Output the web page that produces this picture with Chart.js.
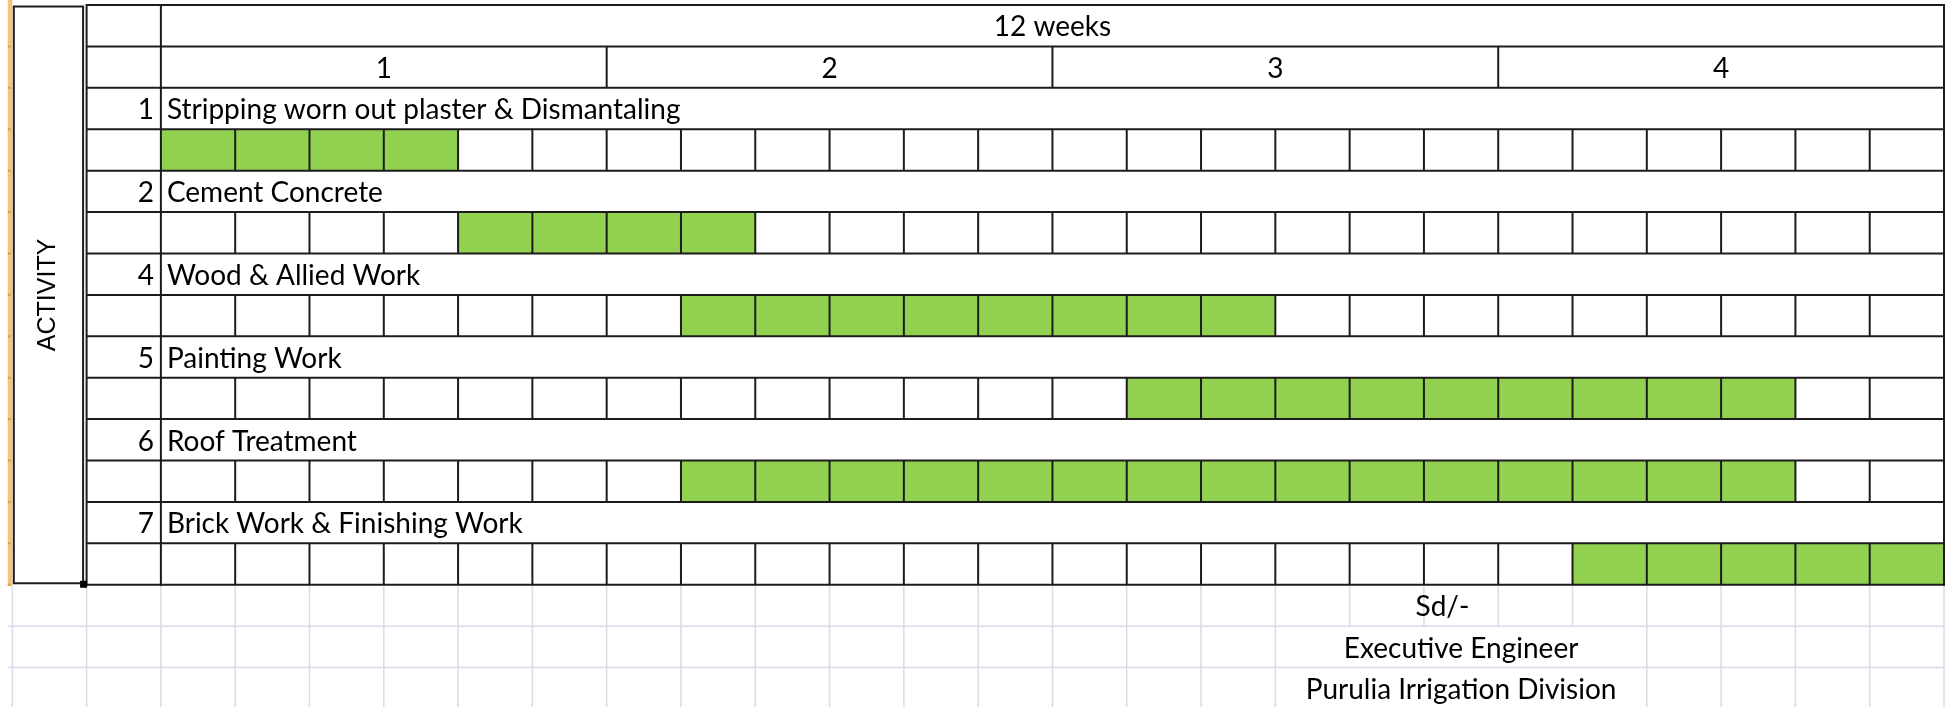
<!DOCTYPE html>
<html>
<head>
<meta charset="utf-8">
<title>Activity schedule</title>
<script src="https://cdn.jsdelivr.net/npm/chart.js@4.4.1/dist/chart.umd.min.js"></script>
<style>
  html, body { margin:0; padding:0; background:#fff; overflow:hidden; }
  #wrap { position:relative; width:1950px; height:709px; }
</style>
</head>
<body>
<div id="wrap"><canvas id="gantt"></canvas></div>
<script>
'use strict';

// ── Data ──
const periodTitle   = '12 weeks';
const weekLabels    = ['1', '2', '3', '4'];
const cellsPerWeek  = 6;
const activityNos   = ['1', '2', '4', '5', '6', '7'];
const activityNames = [
  'Stripping worn out plaster & Dismantaling',
  'Cement Concrete',
  'Wood & Allied Work',
  'Painting Work',
  'Roof Treatment',
  'Brick Work & Finishing Work',
];
const startCell = [0, 4, 7, 13, 7, 19];
const endCell   = [4, 8, 15, 22, 22, 24];
const sideLabel = 'ACTIVITY';
const signature = ['Sd/-', 'Executive Engineer', 'Purulia Irrigation Division'];

const totalCells = weekLabels.length * cellsPerWeek;

// sheet rows: title, weeks, (label, bar) per activity, signature lines
const rows = ['title', 'weeks'];
activityNos.forEach((n, i) => rows.push('label' + i, 'bar' + i));
signature.forEach((s, i) => rows.push('sign' + i));
const tableRows = 2 + activityNos.length * 2;

const FONT      = 'Lato, "Open Sans", sans-serif';
const TEXT_SIZE = 28;

function hline(ctx, x1, x2, y) { ctx.beginPath(); ctx.moveTo(x1, y); ctx.lineTo(x2, y); ctx.stroke(); }
function vline(ctx, x, y1, y2) { ctx.beginPath(); ctx.moveTo(x, y1); ctx.lineTo(x, y2); ctx.stroke(); }

const sheetPlugin = {
  id: 'sheet',
  beforeDatasetsDraw(chart) {
    const { ctx, chartArea: a, scales: { x } } = chart;
    const band = (a.bottom - a.top) / rows.length;
    const rt = i => a.top + i * band;
    ctx.save();

    // orange row-header stripe (selected cell)
    ctx.fillStyle = '#f7c27b';
    ctx.fillRect(x.getPixelForValue(-2) - 4.5, 0, 4.5, rt(tableRows) + 1);
    ctx.fillStyle = '#e39a3e';
    for (let r = 1; r <= tableRows; r++) ctx.fillRect(x.getPixelForValue(-2) - 4.5, rt(r) - 1, 3, 2);

    // faint spreadsheet grid below the table
    ctx.strokeStyle = '#d6dce8';
    ctx.lineWidth = 1.5;
    for (let c = -2; c <= totalCells; c++) {
      const px = x.getPixelForValue(c);
      vline(ctx, px, rt(tableRows), a.bottom);
    }
    // text overflow hides the grid under it
    ctx.font = `${TEXT_SIZE}px ${FONT}`;
    ctx.fillStyle = '#fff';
    signature.forEach((s, i) => {
      if (i === 0) return;
      const w = ctx.measureText(s).width;
      const cx = x.getPixelForValue(17.5);
      ctx.fillRect(cx - w / 2 - 4, rt(tableRows + i), w + 8, band);
    });
    ctx.strokeStyle = '#d6dce8';
    for (let r = tableRows + 1; r <= rows.length; r++) {
      hline(ctx, x.getPixelForValue(-2) - 4, a.right, rt(r));
    }
    ctx.restore();
  },
  afterDatasetsDraw(chart) {
    const { ctx, chartArea: a, scales: { x } } = chart;
    const band = (a.bottom - a.top) / rows.length;
    const rt = i => a.top + i * band;
    const px = c => x.getPixelForValue(c);
    ctx.save();

    // table borders
    ctx.strokeStyle = '#1c1c1c';
    ctx.lineWidth = 2;
    for (let r = 0; r <= tableRows; r++) hline(ctx, px(-1), px(totalCells) + 1, rt(r));
    [-1, 0, totalCells].forEach(c => vline(ctx, px(c), rt(0) - 1, rt(tableRows) + 1));
    for (let w = 1; w < weekLabels.length; w++) vline(ctx, px(w * cellsPerWeek), rt(1), rt(2));
    activityNos.forEach((n, i) => {
      const r = 3 + i * 2;
      for (let c = 1; c < totalCells; c++) vline(ctx, px(c), rt(r), rt(r + 1));
    });

    // selected merged ACTIVITY cell
    const bx1 = px(-2) + 1.5, bx2 = px(-1) - 3.5;
    ctx.strokeRect(bx1, rt(0) + 1.5, bx2 - bx1, rt(tableRows) - rt(0) - 3);
    ctx.fillStyle = '#000';
    ctx.fillRect(bx2 - 3, rt(tableRows) - 4, 7, 7);

    // texts
    ctx.fillStyle = '#000';
    ctx.font = `${TEXT_SIZE}px ${FONT}`;
    ctx.textBaseline = 'alphabetic';
    ctx.textAlign = 'center';
    ctx.fillText(periodTitle, px(totalCells / 2), rt(1) - 10);
    weekLabels.forEach((w, i) => {
      ctx.fillText(w, px(i * cellsPerWeek + cellsPerWeek / 2), rt(2) - 10);
    });
    activityNos.forEach((n, i) => {
      const base = rt(3 + i * 2) - 10;
      ctx.textAlign = 'right';
      ctx.fillText(n, px(0) - 7, base);
      ctx.textAlign = 'left';
      ctx.fillText(activityNames[i], px(0) + 6, base);
    });
    ctx.textAlign = 'center';
    signature.forEach((s, i) => {
      const cx = i === 0 ? px(17.25) : px(17.5);
      ctx.fillText(s, cx, rt(tableRows + i + 1) - 10);
    });

    ctx.translate((px(-2) + px(-1)) / 2 - 1, (rt(0) + rt(tableRows)) / 2);
    ctx.rotate(-Math.PI / 2);
    ctx.font = '25px "Liberation Sans", Arial, sans-serif';
    ctx.textBaseline = 'middle';
    ctx.fillText(sideLabel, 0, 0);
    ctx.restore();
  }
};

new Chart(document.getElementById('gantt'), {
  type: 'bar',
  data: {
    labels: rows,
    datasets: [{
      label: 'Schedule',
      data: activityNames.map((name, i) => ({ x: [startCell[i], endCell[i]], y: 'bar' + i })),
      backgroundColor: '#92d050',
      borderWidth: 0,
      barPercentage: 1,
      categoryPercentage: 1,
    }]
  },
  options: {
    indexAxis: 'y',
    responsive: true,
    maintainAspectRatio: false,
    animation: false,
    layout: { padding: { left: 12.3, top: 5, right: 6, bottom: 0 } },
    plugins: { legend: { display: false }, tooltip: { enabled: false } },
    scales: {
      x: { type: 'linear', min: -2, max: totalCells, display: false },
      y: { type: 'category', offset: true, display: false, grid: { display: false } },
    }
  },
  plugins: [sheetPlugin]
});
</script>
</body>
</html>
